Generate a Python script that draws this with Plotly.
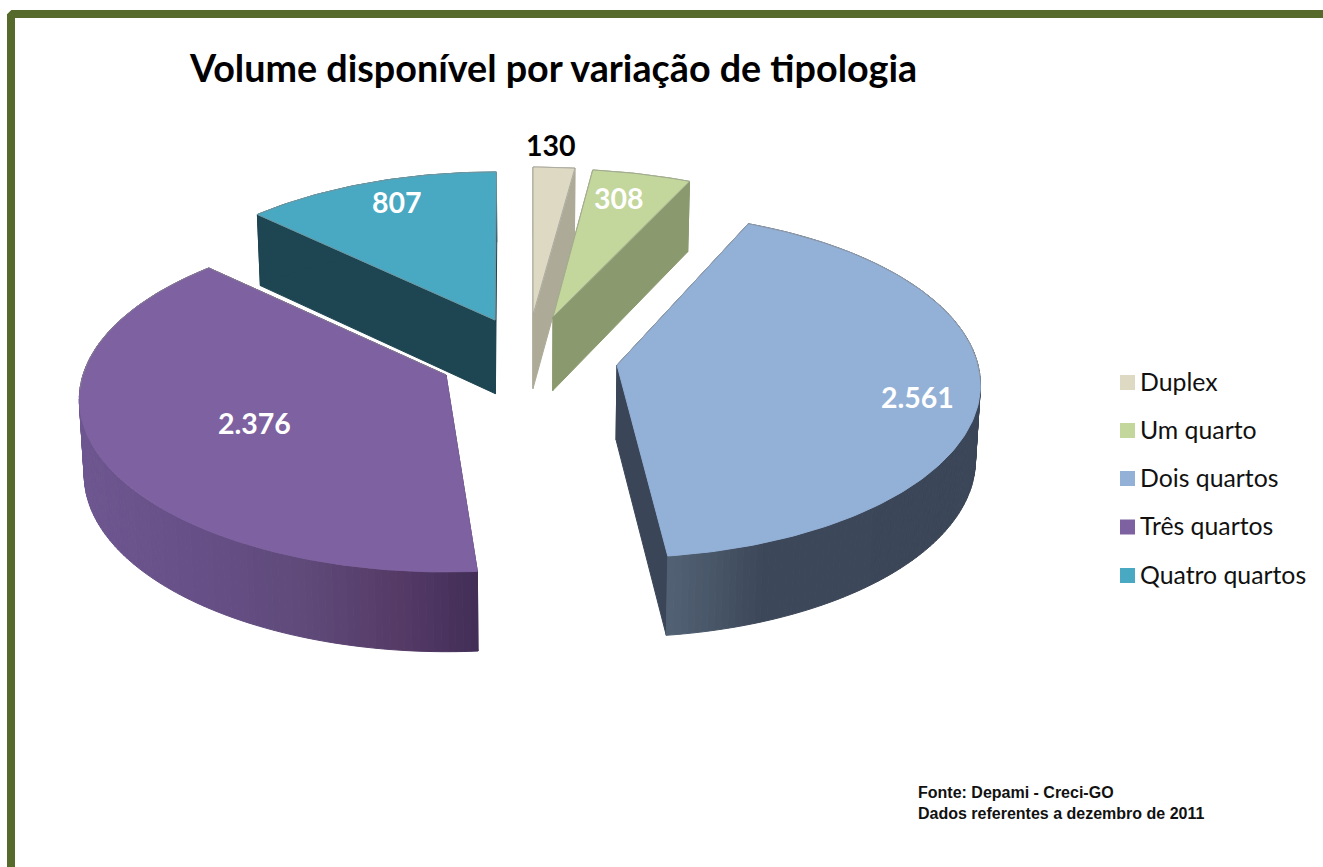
import math
import plotly.graph_objects as go

# ---- data ----
categories = ["Duplex", "Um quarto", "Dois quartos", "Três quartos", "Quatro quartos"]
values = [130, 308, 2561, 2376, 807]
title_text = "Volume disponível por variação de tipologia"
source_lines = ["Fonte: Depami - Creci-GO", "Dados referentes a dezembro de 2011"]

# ---- styles / layout ----
W, H = 1323, 867
top_colors = ["#DDD9C3", "#C3D69B", "#93B0D6", "#7E61A0", "#49A9C3"]
side_colors = ["#ADAA98", "#8A9A6E", "#3A4658", "#43305A", "#1E4552"]
rim_stops = [
    [(0, "#ADAA98")],
    [(0, "#8A9A6E")],
    [(663, "#536375"), (720, "#465466"), (765, "#3C4759"), (980, "#3B4658")],
    [(80, "#6E5790"), (200, "#664F86"), (300, "#5F4A7A"), (400, "#553A66"), (440, "#4B3460"), (476, "#412E55")],
    [(0, "#1E4552")],
]
apex = [(533, 315), (553, 317), (617, 365), (446, 375), (495, 320)]
slice_rx = [363, 363, 361, 363, 358]
slice_ry = [169, 169, 170.5, 169, 169]
slice_persp = [0.142, 0.142, 0.115, 0.142, 0.142]
slice_rot = [0.0, -0.4, -1.8, 1.1, 0.25]
label_pos = [(551, 145), (619, 198), (917, 397), (254, 423), (397, 202)]
label_colors = ["#000000", "#FFFFFF", "#FFFFFF", "#FFFFFF", "#FFFFFF"]
legend_y = [382.5, 430.5, 478.5, 527, 575.5]
paint_order = [4, 0, 1, 3, 2]
FRAME = "#566B2B"
EDGE = "rgba(140,140,140,0.6)"


def hex2rgb(c):
    return tuple(int(c[i:i + 2], 16) for i in (1, 3, 5))


def shade(stops, x):
    if len(stops) == 1 or x <= stops[0][0]:
        return stops[0][1]
    for (x0, c0), (x1, c1) in zip(stops, stops[1:]):
        if x <= x1:
            t = (x - x0) / (x1 - x0)
            a, b = hex2rgb(c0), hex2rgb(c1)
            return "rgb(%d,%d,%d)" % tuple(round(p + (q - p) * t) for p, q in zip(a, b))
    return stops[-1][1]


def drop(p):
    x, y = p
    return 530 + (x - 530) * 0.989, y + 66 + 0.024 * y


fig = go.Figure()


def poly(pts, fill):
    xs = [p[0] for p in pts] + [pts[0][0]]
    ys = [p[1] for p in pts] + [pts[0][1]]
    fig.add_trace(go.Scatter(x=xs, y=ys, mode="lines", fill="toself", fillcolor=fill,
                             line=dict(color=fill, width=1), hoverinfo="skip", showlegend=False))


def outline(pts):
    fig.add_trace(go.Scatter(x=[p[0] for p in pts], y=[p[1] for p in pts], mode="lines",
                             line=dict(color=EDGE, width=1), hoverinfo="skip", showlegend=False))


total = sum(values)
edges = [0.0]
for v in values:
    edges.append(edges[-1] + v / total * 360)

for i in paint_order:
    a0, a1 = edges[i] + slice_rot[i], edges[i + 1] + slice_rot[i]
    ap = apex[i]

    def top_point(deg):
        th = math.radians(deg)
        s = 1 / (1 + slice_persp[i] * math.cos(th))
        return ap[0] + slice_rx[i] * math.sin(th) * s, ap[1] - slice_ry[i] * math.cos(th) * s

    n = max(2, int(a1 - a0))
    angs = [a0 + (a1 - a0) * k / n for k in range(n + 1)]
    arc = [top_point(a) for a in angs]
    # cut faces
    for end in (arc[0], arc[-1]):
        poly([ap, end, drop(end), drop(ap)], side_colors[i])
    # outer rim, shaded along x
    if len(rim_stops[i]) == 1:
        poly(arc + [drop(p) for p in reversed(arc)], rim_stops[i][0][1])
    else:
        for p, q in zip(arc, arc[1:]):
            poly([p, q, drop(q), drop(p)], shade(rim_stops[i], (p[0] + q[0]) / 2))
    # top face
    poly([ap] + arc, top_colors[i])
    # thin bevel along the far edge of the top face
    back = [p for p, a in zip(arc, angs) if math.cos(math.radians(a)) > -0.1]
    if math.cos(math.radians(angs[0])) > -0.1:
        back = [ap] + back
    if math.cos(math.radians(angs[-1])) > -0.1:
        back = back + [ap]
    outline(back)

# legend
fig.add_trace(go.Scatter(
    x=[1127.5] * len(categories), y=legend_y, mode="markers",
    marker=dict(symbol="square", size=15, color=top_colors, line=dict(width=0)),
    hoverinfo="skip", showlegend=False))
fig.add_trace(go.Scatter(
    x=[1140] * len(categories), y=[y + 2 for y in legend_y], mode="text",
    text=categories, textposition="middle right",
    textfont=dict(family="Lato", size=24.8, color="#111111"),
    hoverinfo="skip", showlegend=False))

annotations = [
    dict(x=187, y=67, text="<b>%s</b>" % title_text, showarrow=False, xanchor="left", yanchor="middle",
         font=dict(family="Lato", size=37.7, color="#000000")),
    dict(x=916, y=792, text="<b>%s</b>" % source_lines[0], showarrow=False, xanchor="left", yanchor="middle",
         font=dict(family="Liberation Sans", size=16, color="#111111")),
    dict(x=916, y=813, text="<b>%s</b>" % source_lines[1], showarrow=False, xanchor="left", yanchor="middle",
         font=dict(family="Liberation Sans", size=16, color="#111111")),
]
for v, (x, y), c in zip(values, label_pos, label_colors):
    annotations.append(dict(x=x, y=y, text="<b>%s</b>" % f"{v:,}".replace(",", "."), showarrow=False,
                            font=dict(family="Lato", size=28.5, color=c)))

fig.update_layout(
    width=W, height=H, margin=dict(l=0, r=0, t=0, b=0), paper_bgcolor="white", plot_bgcolor="white",
    xaxis=dict(range=[0, W], visible=False, fixedrange=True),
    yaxis=dict(range=[H, 0], visible=False, fixedrange=True),
    annotations=annotations,
    shapes=[dict(type="path", path="M 11 900 L 11 16 L 13 14 L 1340 14",
                 line=dict(color=FRAME, width=8), xref="x", yref="y", layer="below")],
)
fig.write_html("out.html", config={"displayModeBar": False},
               post_script="document.body.style.margin='0';document.body.style.overflow='hidden';")
